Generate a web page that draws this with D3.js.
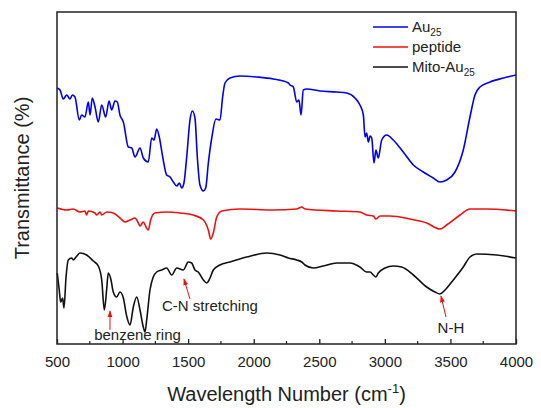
<!DOCTYPE html>
<html>
<head>
<meta charset="utf-8">
<script src="https://cdn.jsdelivr.net/npm/d3@7"></script>
<style>
  body { margin: 0; background: #fff; }
  svg text { font-family: "Liberation Sans", Arial, sans-serif; fill: #222; }
</style>
</head>
<body>
<svg id="chart" width="541" height="408"></svg>
<script>
// FTIR spectra, [wavenumber, transmittance (a.u., offset per trace)]
const au25 = [[502,256],[523,254],[548,245],[574,249],[599,245],[617,249],[637,247],[670,224],[688,229],[713,227],[739,242],[752,229],[769,246],[790,237],[815,222],[841,239],[871,227],[897,243],[917,234],[942,243],[960,242],[980,229],[1006,222],[1044,197],[1070,196],[1095,187],[1133,196],[1158,186],[1196,182],[1222,206],[1240,204],[1260,215],[1280,207],[1306,187],[1336,169],[1362,167],[1387,162],[1413,158],[1433,161],[1451,156],[1468,161],[1489,187],[1514,224],[1532,233],[1552,226],[1570,187],[1590,159],[1616,153],[1634,156],[1654,181],[1680,206],[1712,225],[1743,224],[1763,247],[1781,261],[1819,266],[1895,268],[2023,267],[2149,265],[2264,261],[2277,259],[2302,257],[2328,242],[2345,244],[2361,229],[2378,254],[2404,255],[2505,253],[2633,252],[2709,251],[2772,246],[2810,239],[2836,229],[2849,207],[2861,211],[2874,202],[2887,208],[2900,206],[2917,181],[2932,194],[2950,186],[2976,204],[3014,209],[3064,204],[3140,192],[3217,179],[3293,172],[3369,166],[3420,162],[3471,164],[3535,172],[3598,194],[3649,227],[3687,249],[3725,257],[3802,262],[3903,266],[4000,269]];

const peptide = [[502,136],[574,134],[624,135],[675,132],[713,133],[726,129],[739,133],[790,131],[803,129],[828,132],[841,129],[879,132],[929,131],[980,126],[1019,122],[1057,124],[1095,126],[1120,121],[1133,118],[1158,122],[1179,117],[1196,114],[1214,124],[1247,131],[1336,132],[1438,131],[1539,129],[1616,124],[1654,114],[1672,105],[1692,111],[1718,127],[1756,133],[1895,135],[2149,134],[2328,135],[2366,137],[2391,135],[2633,133],[2810,132],[2861,129],[2912,128],[2932,125],[2963,128],[3039,128],[3192,125],[3319,121],[3420,115],[3471,119],[3573,129],[3649,135],[3776,135],[4000,133]];

const mitoAu25 = [[502,71],[517,54],[528,42],[543,46],[553,36],[569,67],[586,84],[612,86],[624,84],[645,87],[675,91],[726,89],[777,83],[815,78],[841,64],[861,34],[879,55],[891,71],[912,64],[929,52],[955,47],[980,52],[1006,46],[1031,28],[1057,19],[1082,37],[1108,47],[1133,34],[1158,17],[1171,12],[1184,24],[1209,54],[1234,67],[1260,72],[1298,74],[1336,76],[1375,69],[1413,76],[1463,74],[1501,82],[1527,81],[1552,74],[1577,72],[1616,64],[1641,61],[1667,66],[1692,74],[1743,79],[1819,82],[1946,87],[2099,91],[2200,89],[2264,86],[2328,84],[2366,82],[2391,79],[2454,76],[2531,78],[2633,81],[2734,81],[2810,77],[2861,72],[2887,72],[2912,69],[2932,67],[2950,71],[3001,76],[3064,78],[3128,77],[3217,69],[3319,57],[3382,52],[3420,50],[3459,54],[3522,64],[3598,77],[3649,87],[3700,90],[3853,89],[4000,86]];

const xTicks = [500, 1000, 1500, 2000, 2500, 3000, 3500, 4000];
const xMinorTicks = [750, 1250, 1750, 2250, 2750, 3250, 3750];

const seriesNames = ['Au', 'peptide', 'Mito-Au'];
const seriesSubs = ['25', '', '25'];
const seriesColors = ['#0000ee', '#ee1111', '#111111'];

// annotations: label, text anchor point, arrow tail, arrow tip (data coords)
const notes = [
  {label: 'benzene ring', at: [1114, 4], anchor: 'middle', from: [904, 14], to: [904, 33]},
  {label: 'C-N stretching', at: [1301, 33], anchor: 'start', from: [1514, 45], to: [1468, 65]},
  {label: 'N-H', at: [3504, 11], anchor: 'middle', from: [3466, 27], to: [3428, 48]}
];

const margin = {top: 12, right: 25, bottom: 64, left: 57};
const width = 541 - margin.left - margin.right;
const height = 408 - margin.top - margin.bottom;

const svg = d3.select('#chart');
const g = svg.append('g').attr('transform', `translate(${margin.left},${margin.top})`);

const x = d3.scaleLinear().domain([500, 4000]).range([0, width]);
const y = d3.scaleLinear().domain([0, height]).range([height, 0]);

const line = d3.line()
  .x(d => x(d[0]))
  .y(d => y(d[1]))
  .curve(d3.curveMonotoneX);

svg.append('defs').append('marker')
  .attr('id', 'arrow')
  .attr('viewBox', '0 0 10 10')
  .attr('refX', 9).attr('refY', 5)
  .attr('markerWidth', 7).attr('markerHeight', 7)
  .attr('orient', 'auto')
  .append('path')
  .attr('d', 'M0,1.5 L10,5 L0,8.5 Z')
  .attr('fill', '#ee1111');

[au25, peptide, mitoAu25].forEach((s, i) => {
  g.append('path')
    .datum(s)
    .attr('fill', 'none')
    .attr('stroke', seriesColors[i])
    .attr('stroke-width', 1.6)
    .attr('stroke-linejoin', 'round')
    .attr('d', line);
});

// frame
g.append('rect')
  .attr('width', width).attr('height', height)
  .attr('fill', 'none').attr('stroke', '#222').attr('stroke-width', 1.5);

// bottom axis, ticks inward
const xAxis = g.append('g')
  .attr('transform', `translate(0,${height})`)
  .call(d3.axisBottom(x).tickValues(xTicks).tickSizeInner(-5).tickSizeOuter(0).tickPadding(12).tickFormat(d3.format('d')));
xAxis.select('.domain').remove();
xAxis.selectAll('line').attr('stroke', '#222').attr('stroke-width', 1.3);
xAxis.selectAll('text').attr('font-size', 15).attr('fill', '#222')
  .style('font-family', '"Liberation Sans", Arial, sans-serif');

g.append('g')
  .selectAll('line')
  .data(xMinorTicks)
  .join('line')
  .attr('x1', d => x(d)).attr('x2', d => x(d))
  .attr('y1', height).attr('y2', height - 3)
  .attr('stroke', '#222').attr('stroke-width', 1.2);

// axis titles
const xt = svg.append('text')
  .attr('x', margin.left + width / 2)
  .attr('y', 401)
  .attr('text-anchor', 'middle')
  .attr('font-size', 20);
xt.append('tspan').text('Wavelength Number (cm');
xt.append('tspan').attr('font-size', 13).attr('dy', -8).text('-1');
xt.append('tspan').attr('dy', 8).text(')');

svg.append('text')
  .attr('transform', `translate(29,${margin.top + height / 2}) rotate(-90)`)
  .attr('text-anchor', 'middle')
  .attr('font-size', 20)
  .text('Transmittance (%)');

// legend
const legend = svg.append('g');
seriesNames.forEach((name, i) => {
  const ly = 27 + i * 20;
  legend.append('line')
    .attr('x1', 373).attr('x2', 408)
    .attr('y1', ly).attr('y2', ly)
    .attr('stroke', seriesColors[i]).attr('stroke-width', 1.6);
  const t = legend.append('text')
    .attr('x', 412).attr('y', ly + 5)
    .attr('font-size', 15);
  t.append('tspan').text(name);
  if (seriesSubs[i]) t.append('tspan').attr('font-size', 10).attr('dy', 4).text(seriesSubs[i]);
});

// annotations
notes.forEach(n => {
  g.append('line')
    .attr('x1', x(n.from[0])).attr('y1', y(n.from[1]))
    .attr('x2', x(n.to[0])).attr('y2', y(n.to[1]))
    .attr('stroke', '#ee1111').attr('stroke-width', 1)
    .attr('marker-end', 'url(#arrow)');
  g.append('text')
    .attr('x', x(n.at[0])).attr('y', y(n.at[1]))
    .attr('text-anchor', n.anchor)
    .attr('font-size', 15)
    .text(n.label);
});
</script>
</body>
</html>
